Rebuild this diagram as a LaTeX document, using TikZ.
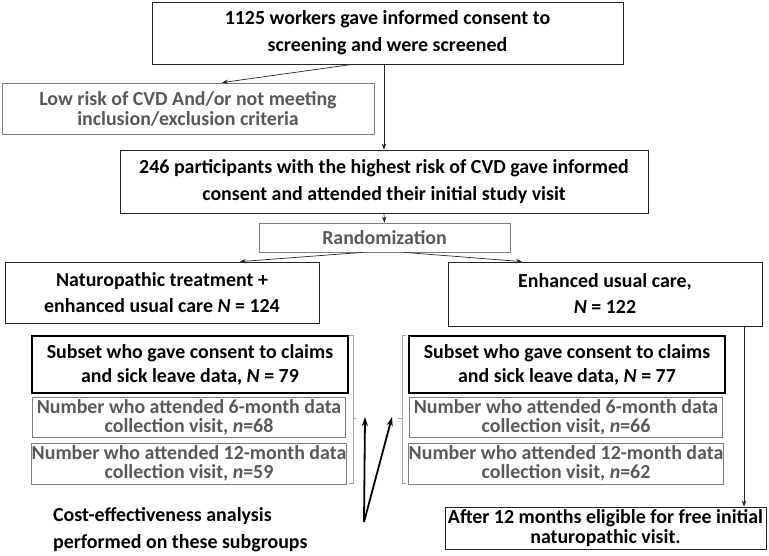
\documentclass[tikz,border=0pt]{standalone}
\usepackage{fontspec}
\setmainfont{Carlito}
\usetikzlibrary{arrows.meta}
\definecolor{greytext}{HTML}{595959}
\definecolor{greyline}{HTML}{7F7F7F}
\definecolor{bracketgrey}{HTML}{A6A6A6}

\begin{document}
\begin{tikzpicture}[x=1pt, y=-1pt,
            box/.style={draw=black!85, line width=0.8pt, align=center, inner sep=0pt, font=\bfseries\fontsize{19.9}{27}\selectfont},
            greybox/.style={box, draw=greyline, text=greytext},
            heavybox/.style={box, draw=black, line width=2pt},
            link/.style={-{Stealth[length=6pt,width=4.5pt]}, line width=0.7pt, draw=black!85},
            bigarrow/.style={-{Stealth[length=9pt,width=6pt]}, line width=1.8pt},
            bracket/.style={draw=bracketgrey, line width=0.8pt}
        ]
        \useasboundingbox (0,0) rectangle (769,555);

        % Screening and enrolment
        \node[box, minimum width=471pt, minimum height=62pt] (screen) at (387.5,33)
            {1125 workers gave informed consent to\\screening and were screened};
        \node[greybox, minimum width=372pt, minimum height=51pt, font=\bfseries\fontsize{19.9}{20}\selectfont] (low) at (188,108.5)
            {Low risk of CVD And/or not meeting\\inclusion/exclusion criteria};
        \node[box, minimum width=528pt, minimum height=63pt] (enrol) at (384,181.5)
            {246 participants with the highest risk of CVD gave informed\\consent and attended their initial study visit};
        \node[greybox, minimum width=251pt, minimum height=29pt] (rand) at (384.5,237.5) {Randomization};

        % The two arms
        \node[box, minimum width=314pt, minimum height=61pt, font=\bfseries\fontsize{19.9}{26}\selectfont] (natu) at (162,292.5)
            {Naturopathic treatment +\\enhanced usual care \textit{N} = 124};
        \node[box, minimum width=314pt, minimum height=64pt, font=\bfseries\fontsize{19.9}{26}\selectfont] (enh) at (605,294)
            {Enhanced usual care,\\\textit{N} = 122};

        % Subsets of each arm
        \foreach \side/\x/\N/\six/\twelve in {L/190/79/68/59, R/567/77/66/62} {
                \node[heavybox, minimum width=316pt, minimum height=57pt, font=\bfseries\fontsize{19.9}{24}\selectfont] (sub\side) at (\x,364.5)
                    {Subset who gave consent to claims\\and sick leave data, \textit{N} = \N};
                \node[greybox, minimum width=313pt, minimum height=40pt, font=\bfseries\fontsize{19.9}{19}\selectfont] (six\side) at (\x-1,417)
                    {Number who attended 6-month data\\collection visit, \textit{n}=\six};
                \node[greybox, minimum width=313pt, minimum height=41pt, font=\bfseries\fontsize{19.9}{19}\selectfont] (twelve\side) at (\x-1,463.5)
                    {Number who attended 12-month data\\collection visit, \textit{n}=\twelve};
            }

        \node[box, minimum width=321pt, minimum height=42pt, font=\bfseries\fontsize{19.9}{20}\selectfont] (after) at (605.5,528)
            {After 12 months eligible for free initial\\naturopathic visit.};
        \node[align=left, anchor=west, inner sep=0pt, font=\bfseries\fontsize{19.9}{27}\selectfont] (cost) at (53,530)
            {Cost-effectiveness analysis\\performed on these subgroups};

        % Connectors
        \draw[link] ([xshift=-35.5pt]screen.south) -- ([xshift=34pt]low.north);
        \draw[link] (screen.south -| enrol.north) -- (enrol.north);
        \draw[link] (enrol.south) -- (rand.north);
        \draw[link] ([xshift=-22pt]rand.south) -- ([xshift=78pt]natu.north);
        \draw[link] ([xshift=20pt]rand.south) -- ([xshift=-83pt]enh.north);
        \draw[link] ([xshift=139pt]enh.south) -- ([xshift=138.5pt]after.north);

        % Brackets round the subsets
        \draw[bracket] (349,335) -- (353,335) -- (353,483) -- (349,483);
        \draw[bracket] (353,418) -- (356,418);
        \draw[bracket] (406,335) -- (402,335) -- (402,483) -- (406,483);
        \draw[bracket] (402,418) -- (398,418);

        % Arrows from the analysis note to the brackets
        \coordinate (foot) at (364,522);
        \coordinate (tipL) at (365,417);
        \coordinate (tipR) at (392,417);
        \draw[bigarrow] (foot) -- (tipL);
        \draw[bigarrow] (foot) -- (tipR);
    \end{tikzpicture}
\end{document}
